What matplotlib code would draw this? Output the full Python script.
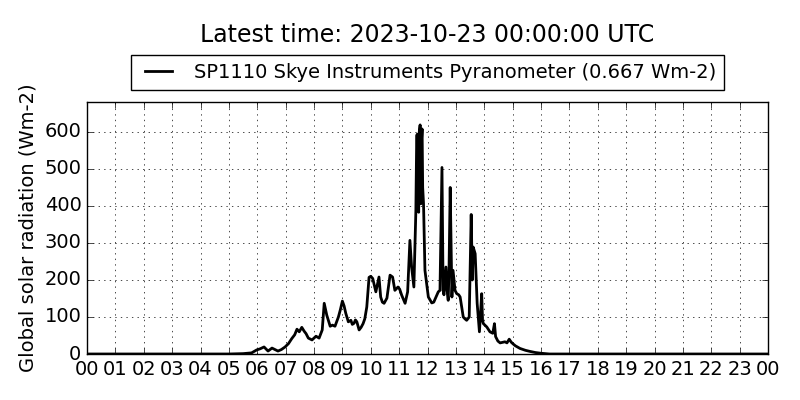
import matplotlib
matplotlib.use("Agg")
import matplotlib.pyplot as plt

TITLE = "Latest time: 2023-10-23 00:00:00 UTC"
LABEL = "SP1110 Skye Instruments Pyranometer (0.667 Wm-2)"

# hours since 00 UTC and global radiation (Wm-2)
hours = [0.0, 5.0, 5.5, 5.8, 5.98, 6.1, 6.24, 6.38, 6.52, 6.73, 6.85, 6.98,
         7.1, 7.22, 7.32, 7.40, 7.48, 7.57, 7.65, 7.72, 7.80, 7.93, 8.07, 8.18,
         8.29, 8.36, 8.45, 8.57, 8.65, 8.74, 8.86, 8.93, 9.00, 9.06, 9.12, 9.21,
         9.30, 9.35, 9.41, 9.46, 9.51, 9.59, 9.66, 9.73, 9.79, 9.86, 9.94, 10.0,
         10.07, 10.18, 10.29, 10.35, 10.41, 10.47, 10.57, 10.68, 10.77, 10.85, 10.96, 11.02,
         11.09, 11.21, 11.30, 11.38, 11.44, 11.52, 11.59, 11.62, 11.64, 11.66, 11.69, 11.71,
         11.74, 11.76, 11.77, 11.79, 11.81, 11.83, 11.86, 11.91, 12.03, 12.15, 12.22, 12.30,
         12.38, 12.44, 12.51, 12.55, 12.58, 12.65, 12.69, 12.73, 12.76, 12.80, 12.83, 12.86,
         12.90, 12.97, 13.03, 13.10, 13.15, 13.20, 13.26, 13.32, 13.38, 13.47, 13.54, 13.58,
         13.61, 13.68, 13.75, 13.83, 13.91, 13.94, 13.97, 14.09, 14.20, 14.30, 14.36, 14.40,
         14.48, 14.56, 14.73, 14.80, 14.88, 14.95, 15.02, 15.1, 15.26, 15.45, 15.61, 15.8,
         16.0, 16.3, 24.0]
radiation = [0, 0, 1, 3, 11, 14, 19, 8, 16, 8, 12, 19,
             28, 42, 52, 67, 60, 72, 62, 55, 43, 38, 48, 43,
             65, 137, 105, 75, 78, 75, 100, 120, 143, 130, 110, 87,
             91, 80, 83, 92, 87, 65, 72, 82, 95, 127, 207, 210,
             204, 168, 208, 154, 140, 137, 151, 213, 208, 172, 181, 175,
             159, 137, 168, 307, 235, 181, 387, 590, 594, 400, 383, 600,
             619, 530, 406, 580, 608, 450, 406, 226, 154, 138, 140, 154,
             168, 172, 504, 172, 160, 235, 172, 145, 235, 450, 300, 154,
             226, 172, 163, 160, 154, 130, 100, 95, 91, 100, 377, 200,
             289, 271, 137, 60, 163, 90, 82, 73, 60, 56, 82, 47,
             35, 30, 33, 30, 40, 32, 27, 22, 15, 10, 7, 4,
             2, 0, 0]
tick_labels = ["%02d" % (h % 24) for h in range(25)]

plt.style.use("classic")
plt.rcParams["figure.facecolor"] = "white"
plt.rcParams["savefig.facecolor"] = "white"

fig = plt.figure(figsize=(8, 4), dpi=100)
ax = fig.add_axes([0.10875, 0.115, 0.85125, 0.63])

ax.plot(hours, radiation, color="black", linewidth=2, label=LABEL)
ax.set_xlim(0, 24)
ax.set_ylim(0, 1.1 * max(radiation))
ax.set_xticks(range(25))
ax.set_xticklabels(tick_labels)
ax.set_yticks(range(0, 700, 100))
ax.tick_params(labelsize=14)
ax.grid(True, linestyle=":", color="black", linewidth=0.5)
ax.set_ylabel("Global solar radiation (Wm-2)", fontsize=14)

ax.legend(loc="lower center", bbox_to_anchor=(0.5, 1.048), borderaxespad=0,
          fontsize=14, fancybox=False, handlelength=2)
fig.text(0.534, 0.912, TITLE, ha="center", va="center", fontsize=17)

fig.savefig("out.png", dpi=100)
plt.close()
